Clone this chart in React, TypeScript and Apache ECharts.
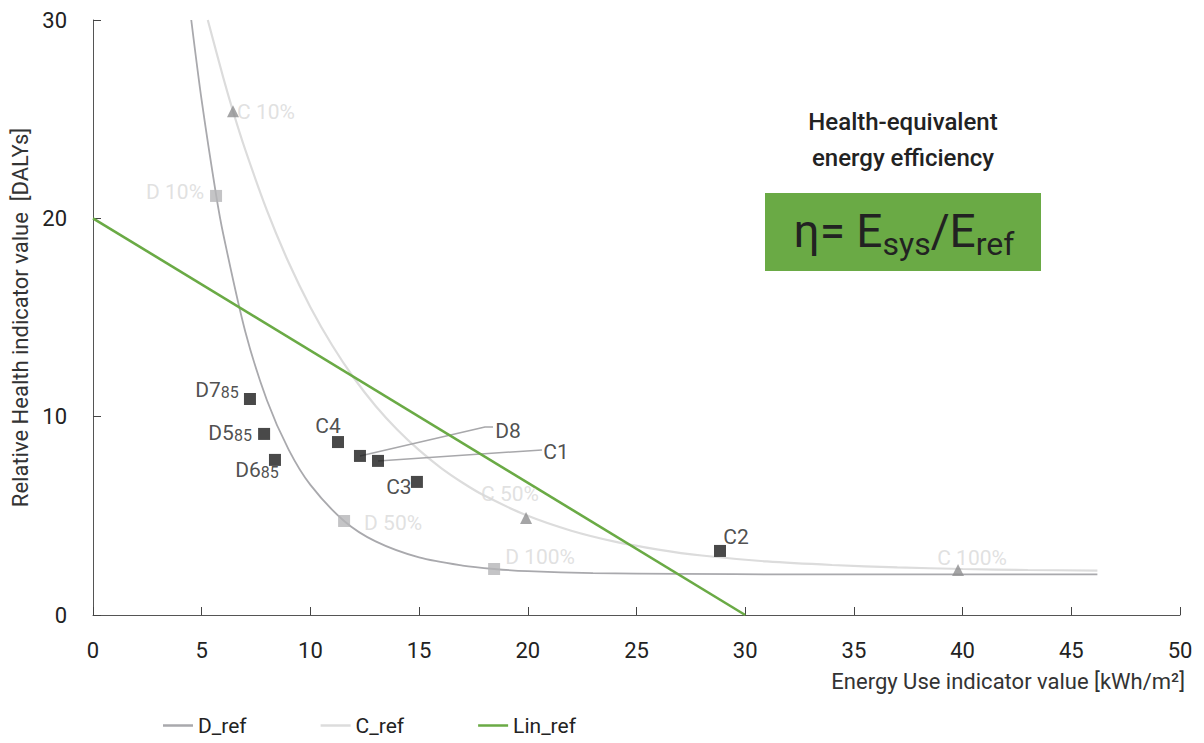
import React, { useEffect, useRef } from "react";
import * as echarts from "echarts";

const FONT = "Roboto, 'Noto Sans', sans-serif";

// Reference curves
const dRefX = [4.52, 5, 5.66, 6, 7, 8, 9, 10, 11.55, 13, 15, 17, 18.45, 20, 23, 27, 32, 46.2];
const dRefY = [30, 25.93, 21.2, 19.16, 14.31, 10.83, 8.34, 6.56, 4.74, 3.71, 2.9, 2.49, 2.32, 2.21, 2.11, 2.07, 2.05, 2.05];
const cRefX = [5.28, 6, 6.44, 7, 8, 9, 10, 11, 12, 13, 14, 15, 16, 17, 18, 20, 22, 24, 26, 28, 31, 34, 37, 40, 43, 46.2];
const cRefY = [30, 27.06, 25.4, 23.47, 20.4, 17.77, 15.52, 13.6, 11.95, 10.54, 9.34, 8.31, 7.42, 6.67, 6.02, 5.0, 4.25, 3.7, 3.3, 3.0, 2.7, 2.52, 2.4, 2.32, 2.27, 2.24];
const linRefX = [0, 30];
const linRefY = [20, 0];

// Measured systems
const pointNames = ["D7_85", "D5_85", "D6_85", "C4", "D8", "C1", "C3", "C2"];
const pointLabels = ["{a|D7}{s|85}", "{a|D5}{s|85}", "{a|D6}{s|85}", "C4", "D8", "C1", "C3", "C2"];
const pointX = [7.22, 7.87, 8.37, 11.27, 12.28, 13.11, 14.9, 28.84];
const pointY = [10.89, 9.13, 7.82, 8.72, 8.02, 7.77, 6.71, 3.23];

// Reference percentage markers
const dPctNames = ["D 10%", "D 50%", "D 100%"];
const dPctX = [5.66, 11.55, 18.45];
const dPctY = [21.13, 4.74, 2.32];
const cPctNames = ["C 10%", "C 50%", "C 100%"];
const cPctX = [6.44, 19.92, 39.79];
const cPctY = [25.4, 4.89, 2.27];

// Leader-line label anchors (data units) for D8 and C1
const leaderNames = ["D8", "C1"];
const leaderAnchors = [
  [[18.03, 9.48], [18.4, 9.48]],
  [[20.65, 8.32]],
];

const xTicks = { min: 0, max: 50, interval: 5 };
const yTicks = { min: 0, max: 30, interval: 10 };

// label offsets (pixels) — styling only
const pointLabelOffsets: Record<string, number[]> = {
  D7_85: [-33, -8],
  D5_85: [-34, 1],
  D6_85: [-18, 12],
  C4: [-10, -16],
  D8: [148, -25],
  C1: [178, -9],
  C3: [-18, 5],
  C2: [16, -14],
};
const pctLabelOffsets: Record<string, number[]> = {
  "D 10%": [-41, -4],
  "D 50%": [49, 2],
  "D 100%": [46, -12],
  "C 10%": [33, 1],
  "C 50%": [-16, -24],
  "C 100%": [14, -12],
};

const zip = (xs: number[], ys: number[]) => xs.map((x, i) => [x, ys[i]]);

export default function App() {
  const ref = useRef<HTMLDivElement>(null);
  useEffect(() => {
    if (!ref.current) return;
    const chart = echarts.init(ref.current, null, { renderer: "svg" });

    const leaderSeries = leaderNames.map((n, i) => {
      const idx = pointNames.indexOf(n);
      return {
        type: "line",
        name: "leader-" + n,
        data: [[pointX[idx], pointY[idx]], ...leaderAnchors[i]],
        symbol: "none",
        silent: true,
        z: 3,
        lineStyle: { color: "#a8a8ab", width: 1.5 },
        legendHoverLink: false,
      };
    });

    const option: any = {
      animation: false,
      backgroundColor: "#fff",
      textStyle: { fontFamily: FONT },
      grid: { left: 93, right: 24, top: 20, bottom: 128 },
      legend: {
        data: ["D_ref", "C_ref", "Lin_ref"],
        left: 158,
        top: 710,
        icon: "rect",
        itemWidth: 30,
        itemHeight: 2.5,
        itemGap: 74,
        textStyle: { fontSize: 21, color: "#222", fontFamily: FONT },
      },
      xAxis: {
        type: "value",
        ...xTicks,
        name: "Energy Use indicator value [kWh/m²]",
        nameLocation: "end",
        nameGap: 5,
        nameTextStyle: {
          fontSize: 22,
          color: "#333",
          align: "right",
          verticalAlign: "top",
          padding: [55, 0, 0, 0],
          fontFamily: FONT,
        },
        axisLine: { lineStyle: { color: "#555", width: 1 } },
        axisTick: { inside: true, length: 8, lineStyle: { color: "#444" } },
        axisLabel: { fontSize: 22, color: "#222", margin: 24, fontFamily: FONT },
        splitLine: { show: false },
      },
      yAxis: {
        type: "value",
        ...yTicks,
        name: "Relative Health indicator value  [DALYs]",
        nameLocation: "middle",
        nameGap: 58,
        nameTextStyle: { fontSize: 22, color: "#333", fontFamily: FONT },
        axisLine: { show: true, lineStyle: { color: "#555", width: 1 } },
        axisTick: { show: true, inside: true, length: 8, lineStyle: { color: "#444" } },
        axisLabel: { fontSize: 22, color: "#222", margin: 26, fontFamily: FONT },
        splitLine: { show: false },
      },
      graphic: [
        {
          type: "text",
          z: 10,
          style: {
            text: "Health-equivalent\nenergy efficiency",
            x: 903,
            y: 140,
            align: "center",
            verticalAlign: "middle",
            fontSize: 24,
            fontWeight: 500,
            fontFamily: FONT,
            lineHeight: 36,
            fill: "#222",
          },
        },
        {
          type: "rect",
          z: 10,
          shape: { x: 765, y: 193, width: 276, height: 78 },
          style: { fill: "#6aaa45" },
        },
        {
          type: "text",
          z: 11,
          style: {
            text: "{m|η= E}{s|sys}{m|/E}{s|ref}",
            x: 904,
            y: 234,
            align: "center",
            verticalAlign: "middle",
            fontFamily: FONT,
            rich: {
              m: { fontSize: 46, fontFamily: FONT, fill: "#222", lineHeight: 60, verticalAlign: "top", padding: [4, 0, 0, 0] },
              s: { fontSize: 32, fontFamily: FONT, fill: "#222", lineHeight: 60, verticalAlign: "top", padding: [24, 0, 0, 0] },
            },
          },
        },
      ],
      series: [
        {
          type: "line",
          name: "D_ref",
          data: zip(dRefX, dRefY),
          smooth: 0.3,
          symbol: "none",
          z: 2,
          color: "#a9a9ad",
          lineStyle: { color: "#a9a9ad", width: 1.8 },
        },
        {
          type: "line",
          name: "C_ref",
          data: zip(cRefX, cRefY),
          smooth: 0.3,
          symbol: "none",
          z: 2,
          color: "#dcdcdc",
          lineStyle: { color: "#dcdcdc", width: 2.2 },
        },
        {
          type: "line",
          name: "Lin_ref",
          data: zip(linRefX, linRefY),
          symbol: "none",
          z: 4,
          color: "#6aaa45",
          lineStyle: { color: "#6aaa45", width: 2.6 },
        },
        ...leaderSeries,
        {
          type: "scatter",
          name: "D pct",
          symbol: "rect",
          symbolSize: 12,
          z: 5,
          itemStyle: { color: "#b5b5b8" },
          data: dPctNames.map((n, i) => ({
            name: n,
            value: [dPctX[i], dPctY[i]],
            label: {
              show: true,
              position: "inside",
              offset: pctLabelOffsets[n],
              formatter: n,
              fontSize: 21,
              color: "#d9d9d9",
              fontFamily: FONT,
            },
          })),
        },
        {
          type: "scatter",
          name: "C pct",
          symbol: "triangle",
          symbolSize: 12,
          z: 5,
          itemStyle: { color: "#8e8e90" },
          data: cPctNames.map((n, i) => ({
            name: n,
            value: [cPctX[i], cPctY[i]],
            label: {
              show: true,
              position: "inside",
              offset: pctLabelOffsets[n],
              formatter: n,
              fontSize: 21,
              color: "#d9d9d9",
              fontFamily: FONT,
            },
          })),
        },
        {
          type: "scatter",
          name: "Systems",
          symbol: "rect",
          symbolSize: 12,
          z: 6,
          itemStyle: { color: "#1c1c1c" },
          data: pointNames.map((n, i) => ({
            name: n,
            value: [pointX[i], pointY[i]],
            label: {
              show: true,
              position: "inside",
              offset: pointLabelOffsets[n],
              formatter: pointLabels[i],
              fontSize: 21,
              color: "#222",
              fontFamily: FONT,
              rich: {
                a: { fontSize: 21, color: "#222", fontFamily: FONT, lineHeight: 24, verticalAlign: "top" },
                s: { fontSize: 16, color: "#222", fontFamily: FONT, lineHeight: 24, verticalAlign: "top", padding: [5, 0, 0, 0] },
              },
            },
          })),
        },
      ],
    };
    chart.setOption(option);
    return () => chart.dispose();
  }, []);
  return <div ref={ref} style={{ width: 1204, height: 743, position: "absolute", left: 0, top: 0 }} />;
}
